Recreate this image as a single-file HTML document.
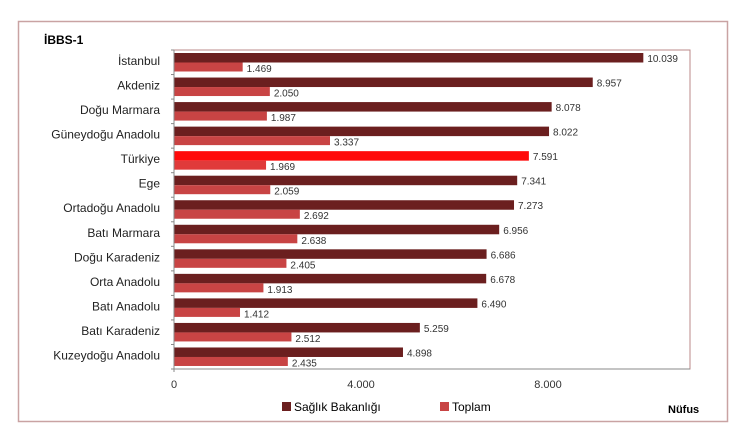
<!DOCTYPE html><html><head><style>body{margin:0;background:#fff;width:739px;height:437px;overflow:hidden}</style></head><body>
<svg width="739" height="437" font-family="Liberation Sans, sans-serif" font-size="11">
<rect x="18.5" y="21.5" width="709" height="400" fill="#fff" stroke="#c9a3a3" stroke-width="1.5"/>
<text x="44" y="44" font-weight="bold" font-size="12">İBBS-1</text>
<rect x="174" y="50" width="516" height="319" fill="#fff" stroke="#b88" stroke-width="1"/>
<g id="bars"></g>
<line x1="174" y1="50" x2="174" y2="372" stroke="#888"/>
<line x1="171" y1="369" x2="690" y2="369" stroke="#888"/>
<g font-size="11" fill="#333" text-anchor="middle"><text x="174" y="388">0</text><text x="361" y="388">4.000</text><text x="548" y="388">8.000</text></g>
<rect x="282" y="402" width="9" height="9" fill="#6b1f1f"/><text x="294" y="411" font-size="12">Sağlık Bakanlığı</text>
<rect x="440" y="402" width="9" height="9" fill="#c84444"/><text x="452" y="411" font-size="12">Toplam</text>
<text x="668" y="413" font-weight="bold" font-size="11">Nüfus</text>
</svg>
<script>
var d=[["İstanbul",10039,1469],["Akdeniz",8957,2050],["Doğu Marmara",8078,1987],["Güneydoğu Anadolu",8022,3337],["Türkiye",7591,1969],["Ege",7341,2059],["Ortadoğu Anadolu",7273,2692],["Batı Marmara",6956,2638],["Doğu Karadeniz",6686,2405],["Orta Anadolu",6678,1913],["Batı Anadolu",6490,1412],["Batı Karadeniz",5259,2512],["Kuzeydoğu Anadolu",4898,2435]];
var s="",k=0.04675,h=24.54;
function f(v){return (v/1000).toFixed(3)}
d.forEach(function(r,i){var y=50+i*h;var t=r[0]=="Türkiye";
s+='<rect x="174" y="'+(y+3)+'" width="'+r[1]*k+'" height="9.5" fill="'+(t?"#ff0a0a":"#6b1f1f")+'"/>';
s+='<rect x="174" y="'+(y+12.5)+'" width="'+r[2]*k+'" height="9" fill="'+(t?"#e03a3a":"#c84444")+'"/>';
s+='<text x="'+(178+r[1]*k)+'" y="'+(y+12)+'" font-size="10" fill="#333">'+f(r[1])+'</text>';
s+='<text x="'+(178+r[2]*k)+'" y="'+(y+22)+'" font-size="10" fill="#333">'+f(r[2])+'</text>';
s+='<text x="160" y="'+(y+15)+'" text-anchor="end" font-size="12" fill="#222">'+r[0]+'</text>';
s+='<line x1="171" y1="'+y+'" x2="174" y2="'+y+'" stroke="#888"/>';});
document.getElementById("bars").innerHTML=s;
</script>
</body></html>
